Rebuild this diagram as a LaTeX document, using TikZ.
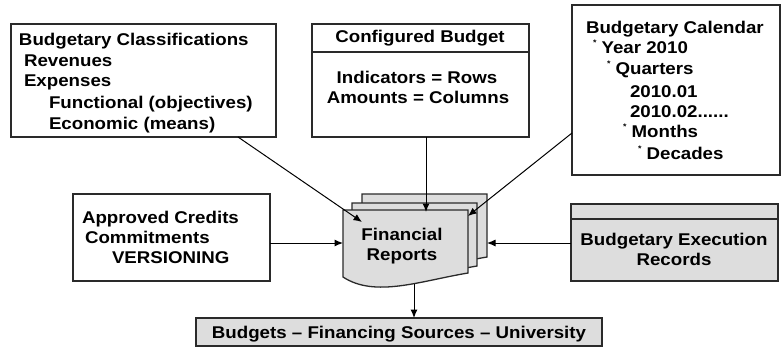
\documentclass[tikz,border=0pt]{standalone}
\usepackage{fontspec}
\newfontfamily\lf{Liberation Sans}[FakeStretch=1.1]
\usetikzlibrary{arrows.meta,calc}
\definecolor{docgray}{HTML}{DDDDDD}
\definecolor{edgec}{HTML}{2A2A2A}
\begin{document}
\begin{tikzpicture}[x=1pt,y=-1pt,
  every node/.style={font=\lf\bfseries\fontsize{17}{21}\selectfont, inner sep=0pt, outer sep=0pt},
  box/.style={draw=edgec, line width=1.4pt, fill=white, anchor=north west},
  graybox/.style={box, fill=docgray},
  docstyle/.style={draw=edgec, line width=1.3pt, fill=docgray},
  arr/.style={draw=black, line width=1pt, -{Latex[length=8.5pt,width=7pt]}},
  lw/.style={anchor=base west},
  lc/.style={anchor=base}]
\useasboundingbox (0,0) rectangle (782,349);
\newcommand{\sast}{\raisebox{7.5pt}{\fontsize{8}{8}\selectfont *}}
% boxes
\node[box, minimum width=265pt, minimum height=113pt] (b1) at (11,24) {};
\node[box, minimum width=217pt, minimum height=113pt] (b2) at (312,24) {};
\node[box, minimum width=208pt, minimum height=170pt] (b3) at (572,5) {};
\node[box, minimum width=197pt, minimum height=87pt] (b4) at (73,194) {};
\node[graybox, minimum width=207pt, minimum height=77pt] (b6) at (571,204) {};
\node[graybox, minimum width=406pt, minimum height=28pt] (bt) at (196,318) {};
\draw[edgec, line width=1.4pt] (b2.west |- 0,52) -- (b2.east |- 0,52);
\draw[edgec, line width=1.4pt] (b6.west |- 0,219) -- (b6.east |- 0,219);
% texts box 1
\node[lw] (t11) at (19,45) {Budgetary Classifications};
\node[lw] (t12) at (24,66) {Revenues};
\node[lw] (t13) at (24,86) {Expenses};
\node[lw] (t14) at (49,108) {Functional (objectives)};
\node[lw] (t15) at (49,129) {Economic (means)};
% box 2
\node[lc] (t21) at (420,42) {Configured Budget};
\node[lc] (t22) at (417,83) {Indicators = Rows};
\node[lc] (t23) at (418,103) {Amounts = Columns};
% box 3
\node[lw] (t31) at (586,33) {Budgetary Calendar};
\node[lw] (t32) at (593,53) {\sast{} Year 2010};
\node[lw] (t33) at (607,74) {\sast{} Quarters};
\node[lw] (t34) at (630,97) {2010.01};
\node[lw] (t35) at (630,117) {2010.02......};
\node[lw] (t36) at (623,137) {\sast{} Months};
\node[lw] (t37) at (638,159) {\sast{} Decades};
% box 4
\node[lw] (t41) at (82,223) {Approved Credits};
\node[lw] (t42) at (85,243) {Commitments};
\node[lw] (t43) at (112,263) {VERSIONING};
% box 6
\node[lc] (t61) at (674,245) {Budgetary Execution};
\node[lc] (t62) at (674,265) {Records};
% bottom
\node[lc] (tb) at (399,338) {Budgets – Financing Sources – University};
% documents
\foreach \dx/\dy in {19/-16, 9/-7, 0/0} {
  \draw[docstyle, shift={(\dx,\dy)}] (343,210) -- (468,210) -- (468,273)
    .. controls (420,281) and (375,298) .. (343,277) -- cycle;
}
\node[lc] (fr1) at (402,240) {Financial};
\node[lc] (fr2) at (402,260) {Reports};
% connector end points
\coordinate (e1) at (362,222);
\coordinate (e2) at (426,212);
\coordinate (e3) at (468,216);
\coordinate (e4) at (343,243);
\coordinate (e6) at (487,243);
\coordinate (fb) at (414,284);
% connectors
\draw[arr] ([xshift=-38pt]b1.south east) -- (e1);
\draw[arr] (e2 |- b2.south) -- (e2);
\draw[arr] ([yshift=42pt]b3.south west) -- (e3);
\draw[arr] (b4.east |- e4) -- (e4);
\draw[arr] (b6.west |- e6) -- (e6);
\draw[arr] (fb) -- (fb |- bt.north);
\end{tikzpicture}
\end{document}
